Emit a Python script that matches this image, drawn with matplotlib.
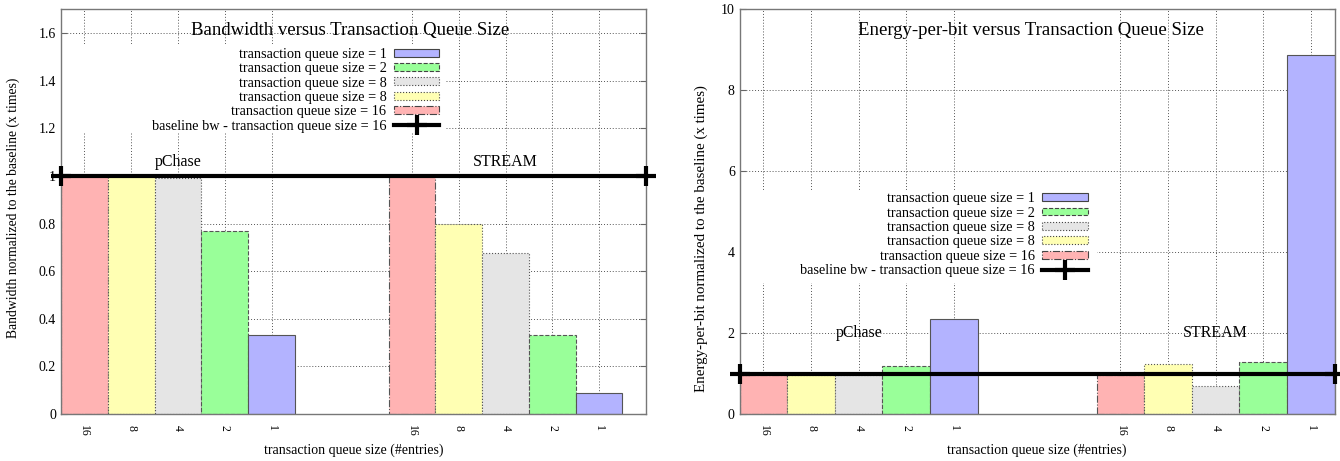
import numpy as np
import matplotlib
matplotlib.use("Agg")
import matplotlib.pyplot as plt
from matplotlib.patches import Rectangle, Patch
from matplotlib.lines import Line2D
from matplotlib.ticker import FormatStrFormatter

plt.rcParams['font.family'] = ['Liberation Serif', 'DejaVu Serif']

# data (bars ordered 16, 8, 4, 2, 1)
queue_sizes = ['16', '8', '4', '2', '1']
series_labels = ['transaction queue size = 16', 'transaction queue size = 8',
                 'transaction queue size = 8', 'transaction queue size = 2',
                 'transaction queue size = 1']
baseline_label = 'baseline bw - transaction queue size = 16'
groups = ['pChase', 'STREAM']

bw_pchase = [1.0, 1.0, 0.99, 0.77, 0.33]
bw_stream = [1.0, 0.80, 0.675, 0.33, 0.09]
epb_pchase = [0.97, 0.97, 0.97, 1.19, 2.34]
epb_stream = [0.96, 1.23, 0.70, 1.29, 8.87]
baseline = 1.0

colors = ['#ffb3b3', '#ffffb3', '#e5e5e5', '#99ff99', '#b3b3ff']
edge_styles = ['-.', ':', ':', '--', '-']

def draw(ax, pchase, stream, stream_start, ylim, yticks, title, ylabel, ylabel_size,
         ylabel_pos, leg_anchor, mask, title_pos, label_pos, label_y):
    n = len(queue_sizes)
    starts = [0, stream_start]
    ax.set_xlim(0, 12.5)
    ax.set_ylim(*ylim)
    ax.set_axisbelow(True)
    ax.grid(True, linestyle=(0, (1, 2)), color='#555555', linewidth=0.7)

    # white block behind the key hides the grid, like gnuplot does
    ax.add_patch(Rectangle((mask[0], mask[1]), mask[2], mask[3], transform=ax.transAxes,
                           facecolor='white', edgecolor='none', zorder=0.8))

    handles = []
    for i in range(n):
        xs = [starts[0] + i + 0.5, starts[1] + i + 0.5]
        ax.bar(xs, [pchase[i], stream[i]], width=1.0, color=colors[i],
               edgecolor='#555555', linewidth=0.8, linestyle=edge_styles[i], zorder=1)
        handles.append(Patch(facecolor=colors[i], edgecolor='#444444', linewidth=0.8,
                             linestyle=edge_styles[i], label=series_labels[i]))

    ax.plot(ax.get_xlim(), [baseline, baseline], color='black', linewidth=3,
            marker='+', markersize=14, markeredgewidth=3, clip_on=False, zorder=3)
    bl = Line2D([], [], color='black', linewidth=3, marker='+', markersize=14,
                markeredgewidth=3, label=baseline_label)

    leg = ax.legend(handles[::-1] + [bl], [h.get_label() for h in handles[::-1]] + [baseline_label],
                    loc='upper right', bbox_to_anchor=leg_anchor, frameon=False,
                    markerfirst=False, fontsize=10.3, handlelength=3.2, handleheight=0.48,
                    handletextpad=0.5, labelspacing=0.1, borderpad=0, borderaxespad=0,
                    numpoints=1)
    for t in leg.get_texts():
        t.set_ha('right')

    ax.text(title_pos[0], title_pos[1], title, transform=ax.transAxes,
            ha='center', va='center', fontsize=13.5)

    for g, gx in zip(groups, label_pos):
        ax.text(gx, label_y, g, ha='center', va='center', fontsize=11.5)

    centers = [s + i + 0.5 for s in starts for i in range(n)]
    ax.set_xticks(centers)
    ax.set_xticklabels(queue_sizes * 2, rotation=-90, fontsize=8.5)
    ax.set_yticks(yticks)
    ax.yaxis.set_major_formatter(FormatStrFormatter('%g'))
    ax.tick_params(axis='y', direction='in', length=4, labelsize=10, right=True, color='#666666')
    ax.tick_params(axis='x', direction='in', length=0, pad=8)
    for s in ax.spines.values():
        s.set_color('#777777')
        s.set_linewidth(1)
    ax.set_xlabel('transaction queue size (#entries)', fontsize=10, labelpad=5)
    ax.set_ylabel(ylabel, fontsize=ylabel_size)
    ax.yaxis.set_label_coords(*ylabel_pos)


fig = plt.figure(figsize=(13.4, 4.61), dpi=100)
ax1 = fig.add_axes([0.0455, 0.102, 0.4365, 0.878])
ax2 = fig.add_axes([0.552, 0.102, 0.444, 0.878])

draw(ax1, bw_pchase, bw_stream, 7, (0, 1.7), np.arange(0, 1.7, 0.2),
     'Bandwidth versus Transaction Queue Size',
     'Bandwidth normalized to the baseline (x times)', 9.8, (-0.07, 0.51),
     (0.647, 0.905), (0, 0.695, 0.659, 0.218), (0.495, 0.947), (2.5, 9.5), 1.06)

draw(ax2, epb_pchase, epb_stream, 7.5, (0, 10), np.arange(0, 11, 2),
     'Energy-per-bit versus Transaction Queue Size',
     'Energy-per-bit normalized to the baseline (x times)', 10.8, (-0.054, 0.433),
     (0.585, 0.548), (0, 0.324, 0.6, 0.226), (0.49, 0.947), (2.5, 10.0), 2.0)

fig.savefig('out.png', dpi=100)
